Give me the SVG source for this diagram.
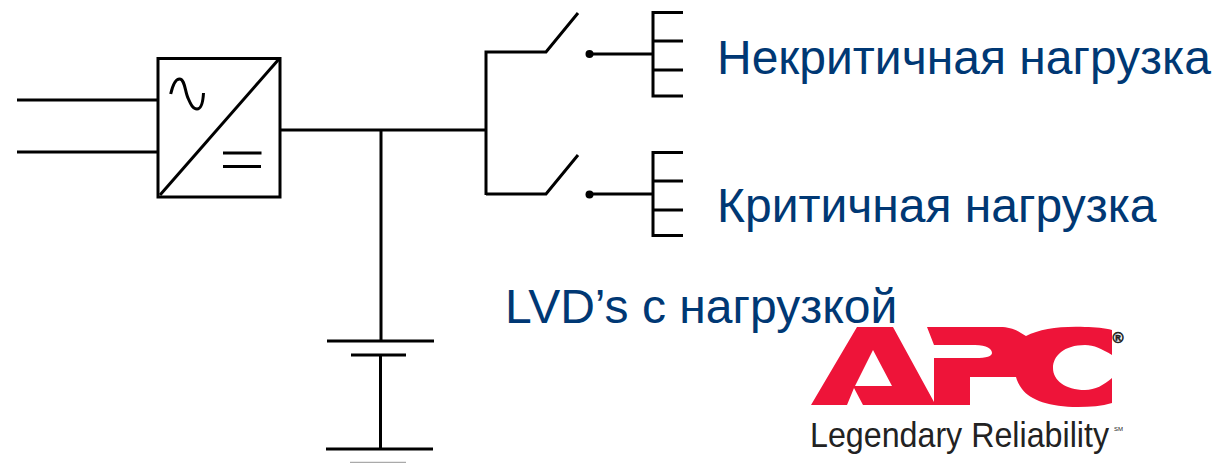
<svg xmlns="http://www.w3.org/2000/svg" width="1219" height="463" viewBox="0 0 1219 463">
<style>
.w{fill:none;stroke:#000;stroke-width:3}
.t{font-family:"Liberation Sans",Arial,sans-serif;fill:#003874;font-size:48px}
.l{font-family:"Liberation Sans Narrow","Liberation Sans",Arial,sans-serif;fill:#222}
</style>
<rect width="1219" height="463" fill="#fff"/>
<g id="connectors" class="w">
<path d="M17 100H158M17 152H158"/>
<path d="M280 130H486M381 130V341"/>
<path d="M486 195V52H546L578 13M486 194H546L578 155"/>
<path d="M590 54H653M590 194H653"/>
<path d="M380.500 355V449"/>
</g>
<g id="converter">
<rect x="158" y="58.500" width="122" height="138.500" fill="none" stroke="#000" stroke-width="3"/>
<path class="w" d="M160 195L279 59"/>
<path class="w" stroke-width="2.500" d="M170.700 94C173 84 176 79 179.500 79C185 79 185 92 188 98C191 105 193 109 197 109C201 109 203 102 203.500 93"/>
<path class="w" d="M223 153H261.500M223 166.500H261"/>
</g>
<g id="switch-1">
<circle cx="589.500" cy="54" r="4" fill="#000"/>
</g>
<g id="switch-2">
<circle cx="589.500" cy="194.500" r="4" fill="#000"/>
</g>
<g id="load-noncritical">
<path class="w" d="M683 12.500H653V96H683M653 41H683M653 70H683"/>
<text class="t" x="717" y="74">Некритичная нагрузка</text>
</g>
<g id="load-critical">
<path class="w" d="M683 152.500H653V235.500H683M653 181H683M653 210H683"/>
<text class="t" x="717" y="222">Критичная нагрузка</text>
</g>
<g id="battery">
<path class="w" d="M327 341H434M351 355H406M326 449H433"/>
<path d="M350 462.500H406" fill="none" stroke="#aaa" stroke-width="1.500"/>
</g>
<g id="lvd-label">
<text class="t" x="505" y="323">LVD’s с нагрузкой</text>
</g>
<g id="apc-logo">
<path fill="#ee1439" d="M811 405L857 327H893L934 402V358H975C987 358 992 356 992 353C992 349 987 345 975 345H934L927 327H1000C1012 327 1018 331 1026 336C1040 329 1060 326 1085 327C1095 327 1105 328 1112 330V355C1102 349 1094 345 1085 345C1064 345 1053 356 1053 368C1053 380 1065 390 1085 390C1095 390 1104 385 1112 378V403C1102 406 1090 407 1078 407C1050 407 1030 400 1022 389C1019 385 1017 381 1016 377H970V405H863L854 388L847 405ZM873 350L855 386H892Z" fill-rule="evenodd"/>
<text x="1118" y="342.500" text-anchor="middle" font-family="Liberation Sans, Arial, sans-serif" font-weight="700" font-size="15" stroke="#222" stroke-width="0.600" fill="#222">®</text>
<text class="l" transform="translate(810 447) scale(0.85 1)" font-size="36" textLength="351.800" lengthAdjust="spacingAndGlyphs">Legendary Reliability</text>
<text class="l" x="1114" y="431" font-size="6" fill="#777">SM</text>
</g>
</svg>
